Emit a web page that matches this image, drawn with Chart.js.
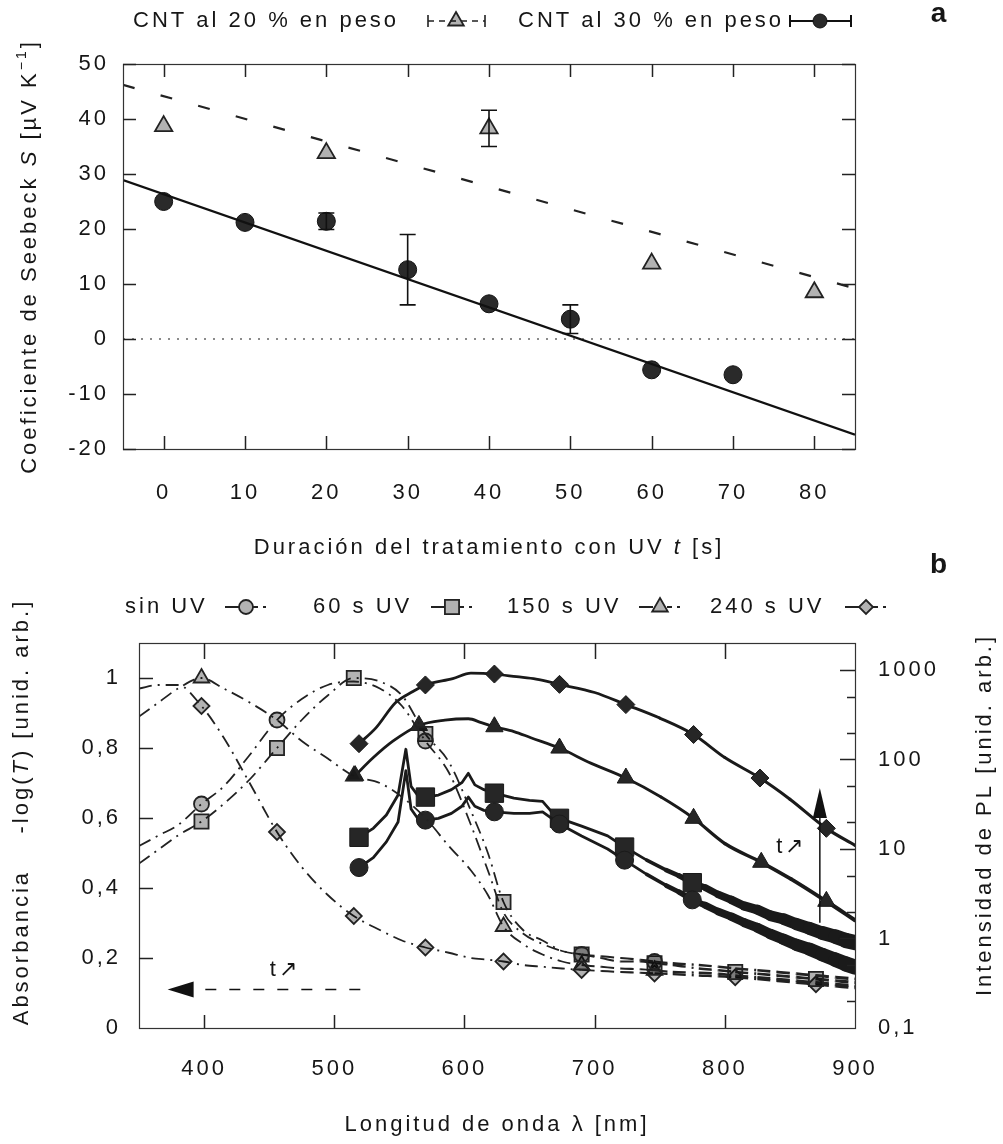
<!DOCTYPE html>
<html><head><meta charset="utf-8">
<script src="https://cdn.jsdelivr.net/npm/chart.js@4.4.1/dist/chart.umd.min.js"></script>
<style>
html,body{margin:0;padding:0;background:#fff;}
#wrap{position:relative;width:1003px;height:1144px;overflow:hidden;background:#fff;}
canvas{position:absolute;left:0;top:0;}
</style></head><body>
<div id="wrap">
<canvas id="ca" width="1003" height="1144"></canvas>
<canvas id="cb" width="1003" height="1144"></canvas>
</div>
<script>
// ---------- Panel a data ----------
const xTicksA = [0,10,20,30,40,50,60,70,80];
const yTicksA = [-20,-10,0,10,20,30,40,50];
const time30 = [0,10,20,30,40,50,60,70];
const seebeck30 = [25.0,21.2,21.4,12.6,6.4,3.6,-5.6,-6.5];
const err30 = [0,0,1.5,6.4,0,2.6,0,0];
const time20 = [0,20,40,60,80];
const seebeck20 = [38.7,33.8,38.3,13.7,8.5];
const err20 = [0,0,3.3,0,0];
const fitT = [-5,85];
const fit30 = [28.9,-17.4];
const fit20 = [46.2,9.2];
const zeroRef = [0,0];

// ---------- Panel b data ----------
const xTicksB = [400,500,600,700,800,900];
const yTicksB = [0,0.2,0.4,0.6,0.8,1];
const yTickLabelsB = ['0','0,2','0,4','0,6','0,8','1'];
const y2Ticks = [0.1,1,10,100,1000];
const y2TickLabels = ['0,1','1','10','100','1000'];
const y2Minor = [0.2,0.5,2,5,20,50,200,500];

const absLam = [350,365,380,398,415,435,456,475,495,515,535,552,570,588,605,618,630,645,660,675,690,705,720,735,746,760,780,795,808,825,840,855,870,885,900];
const absSinUV = [0.52,0.55,0.58,0.64,0.69,0.78,0.88,0.94,0.98,0.99,0.97,0.92,0.82,0.73,0.58,0.45,0.33,0.27,0.24,0.22,0.21,0.205,0.20,0.195,0.19,0.185,0.18,0.175,0.17,0.165,0.16,0.155,0.15,0.145,0.14];
const abs60 = [0.47,0.51,0.55,0.59,0.64,0.71,0.80,0.88,0.95,1.0,0.99,0.95,0.84,0.76,0.62,0.50,0.36,0.28,0.25,0.22,0.21,0.20,0.19,0.19,0.185,0.18,0.17,0.165,0.16,0.155,0.15,0.145,0.14,0.135,0.13];
const abs150 = [0.89,0.93,0.97,1.0,0.97,0.93,0.88,0.82,0.77,0.72,0.70,0.66,0.60,0.52,0.45,0.38,0.29,0.24,0.21,0.19,0.18,0.175,0.17,0.168,0.165,0.16,0.158,0.155,0.15,0.145,0.14,0.135,0.13,0.125,0.12];
const abs240 = [0.97,0.98,0.98,0.92,0.83,0.70,0.56,0.46,0.38,0.32,0.28,0.25,0.23,0.215,0.20,0.195,0.19,0.18,0.175,0.17,0.166,0.163,0.16,0.158,0.156,0.154,0.15,0.148,0.145,0.14,0.135,0.13,0.125,0.12,0.115];
const absMarkSinUV = [398,456,570,690,746];
const absMark60 = [398,456,515,570,630,690,746,808,870];
const absMark150 = [398,515,630,690,746];
const absMark240 = [398,456,515,570,630,690,746,808,870];

const pl240Lam = [519,532,547,560,570,591,605,623,640,655,673,700,724,750,776,800,827,850,878,900];
const pl240 = [150,225,430,570,680,800,920,900,840,790,690,560,410,290,190,105,62,36,17,11];
const pl240Mark = [519,570,623,673,724,776,827,878];

const pl150Lam = [516,530,545,565,585,603,613,623,638,651,673,697,724,751,776,800,828,851,878,900];
const pl150 = [66,105,160,240,275,285,258,232,205,175,134,91,62,38,22,11.5,7.1,4.6,2.6,1.6];
const pl150Mark = [516,565,623,673,724,776,828,878];

const plNoisyLam = [519,530,540,549,555,559,564,570,580,590,598,603,608,615,623,638,650,660,667,673,690,710,723,740,755,765,775,785,795,805,815,825,835,845,855,865,875,885,893,900];
const pl60 = [13.5,17,24,40,130,50,40,38,40,46,55,70,52,46,42,37,35,34,26,22,18,14,10.5,7.5,5.8,5.0,4.2,3.7,3.1,2.7,2.3,2.1,1.8,1.65,1.45,1.3,1.15,1.05,0.95,0.9];
const plSinUV = [6.2,8,12,20,75,28,22,21,22,25,30,38,30,27,26,25,25,26,22,19,14,10,7.5,5.2,3.9,3.3,2.7,2.35,2.0,1.75,1.5,1.32,1.12,0.98,0.85,0.76,0.66,0.58,0.52,0.48];
const pl60Mark = [519,570,623,673,723,775];
const plSinUVMark = [519,570,623,673,723,775];

const arrowAbsLam = [520,372];
const arrowAbsVal = [0.11,0.11];
const arrowPLLam = [873,873];
const arrowPLVal = [1.5,48];
const tLabelAbs = [462,0.165];
const tLabelPL = [851,10.5];

// ---------- helpers ----------
const FONT = "'Liberation Sans', Arial, Helvetica, sans-serif";
const LS = '3px';
const INK = '#161616';
const pts = (xs, ys) => xs.map((x,i)=>({x:x, y:ys[i]}));
const markR = (marks, r) => (c => (c.raw && marks.indexOf(c.raw.x) >= 0) ? r : 0);

function marker(ctx, style, x, y, r, fill, stroke, lw){
  ctx.save(); ctx.setLineDash([]); ctx.beginPath();
  if(style==='circle') ctx.arc(x,y,r,0,2*Math.PI);
  else if(style==='rect'){ const s=r*Math.SQRT1_2; ctx.rect(x-s,y-s,2*s,2*s); }
  else if(style==='triangle'){ ctx.moveTo(x,y-r); ctx.lineTo(x+r*0.866,y+r*0.5); ctx.lineTo(x-r*0.866,y+r*0.5); ctx.closePath(); }
  else if(style==='rectRot'){ ctx.moveTo(x,y-r); ctx.lineTo(x+r,y); ctx.lineTo(x,y+r); ctx.lineTo(x-r,y); ctx.closePath(); }
  if(fill){ ctx.fillStyle=fill; ctx.fill(); }
  if(stroke){ ctx.strokeStyle=stroke; ctx.lineWidth=lw; ctx.stroke(); }
  ctx.restore();
}
function fontFor(p, size){
  return (p.b?'bold ':'') + (p.i?'italic ':'') + (p.sup?Math.round(size*0.65):size) + 'px ' + FONT;
}
function rich(ctx, parts, x, y, rot, size, align){
  ctx.save();
  ctx.translate(x,y); ctx.rotate(rot||0);
  ctx.letterSpacing = LS;
  let total = 0;
  const w = parts.map(p=>{ ctx.font = fontFor(p,size); const m = ctx.measureText(p.t).width; total += m; return m; });
  let cx = align==='left' ? 0 : -total/2;
  ctx.textBaseline = 'middle'; ctx.textAlign = 'left'; ctx.fillStyle = INK;
  parts.forEach((p,i)=>{ ctx.font = fontFor(p,size); ctx.fillText(p.t, cx, p.sup ? -size*0.35 : 0); cx += w[i]; });
  ctx.restore();
  return total;
}
function frame(ctx, a){
  ctx.save(); ctx.strokeStyle='#333'; ctx.lineWidth=1.2; ctx.setLineDash([]);
  ctx.strokeRect(a.left+0.5, a.top+0.5, a.right-a.left, a.bottom-a.top);
  ctx.restore();
}
function vTicks(ctx, scale, vals, a, lenTop, lenBot){
  ctx.save(); ctx.strokeStyle='#222'; ctx.lineWidth=1.5; ctx.beginPath();
  vals.forEach(v=>{ const px = Math.round(scale.getPixelForValue(v))+0.5;
    if(lenBot){ ctx.moveTo(px,a.bottom); ctx.lineTo(px,a.bottom-lenBot); }
    if(lenTop){ ctx.moveTo(px,a.top); ctx.lineTo(px,a.top+lenTop); } });
  ctx.stroke(); ctx.restore();
}
function hTicks(ctx, scale, vals, a, lenL, lenR){
  ctx.save(); ctx.strokeStyle='#222'; ctx.lineWidth=1.5; ctx.beginPath();
  vals.forEach(v=>{ const py = Math.round(scale.getPixelForValue(v))+0.5;
    if(lenL){ ctx.moveTo(a.left,py); ctx.lineTo(a.left+lenL,py); }
    if(lenR){ ctx.moveTo(a.right,py); ctx.lineTo(a.right-lenR,py); } });
  ctx.stroke(); ctx.restore();
}
function errBars(ctx, xs, ys, es, sx, sy, cap){
  ctx.save(); ctx.strokeStyle='#111'; ctx.lineWidth=1.6; ctx.setLineDash([]); ctx.beginPath();
  xs.forEach((x,i)=>{ if(!es[i]) return;
    const px = sx.getPixelForValue(x), y1 = sy.getPixelForValue(ys[i]-es[i]), y2 = sy.getPixelForValue(ys[i]+es[i]);
    ctx.moveTo(px,y1); ctx.lineTo(px,y2);
    ctx.moveTo(px-cap,y1); ctx.lineTo(px+cap,y1);
    ctx.moveTo(px-cap,y2); ctx.lineTo(px+cap,y2); });
  ctx.stroke(); ctx.restore();
}
const tickFont = {family: FONT, size: 22};

// ---------- Panel a ----------
const pluginA = {
  id: 'panelA',
  beforeDraw(chart){ chart.ctx.letterSpacing = LS; },
  afterDatasetsDraw(chart){
    const ctx = chart.ctx, sx = chart.scales.x, sy = chart.scales.y;
    errBars(ctx, time30, seebeck30, err30, sx, sy, 8);
    errBars(ctx, time20, seebeck20, err20, sx, sy, 8);
  },
  afterDraw(chart){
    const ctx = chart.ctx, a = chart.chartArea, sx = chart.scales.x, sy = chart.scales.y;
    frame(ctx, a);
    vTicks(ctx, sx, xTicksA, a, 13, 13);
    hTicks(ctx, sy, yTicksA, a, 13, 13);
    rich(ctx, [{t:'Duración del tratamiento con UV '},{t:'t',i:1},{t:' [s]'}], (a.left+a.right)/2, 548, 0, 22);
    rich(ctx, [{t:'Coeficiente de Seebeck '},{t:'S',i:1},{t:' [µV K'},{t:'−1',sup:1},{t:']'}], 30, (a.top+a.bottom)/2, -Math.PI/2, 22);
    rich(ctx, [{t:'a',b:1}], 940, 14, 0, 28);
    const ly = 21;
    rich(ctx, [{t:'CNT al 20 % en peso'}], 133, ly, 0, 22, 'left');
    ctx.save(); ctx.strokeStyle='#222'; ctx.lineWidth=1.6;
    ctx.setLineDash([6,5]); ctx.beginPath(); ctx.moveTo(428,ly); ctx.lineTo(485,ly); ctx.stroke();
    ctx.setLineDash([]); ctx.beginPath(); ctx.moveTo(428,ly-6); ctx.lineTo(428,ly+6); ctx.moveTo(485,ly-6); ctx.lineTo(485,ly+6); ctx.stroke();
    ctx.restore();
    marker(ctx,'triangle',456,ly,9,'rgba(0,0,0,0.3)','#222',1.8);
    rich(ctx, [{t:'CNT al 30 % en peso'}], 518, ly, 0, 22, 'left');
    ctx.save(); ctx.strokeStyle='#111'; ctx.lineWidth=2; ctx.setLineDash([]);
    ctx.beginPath(); ctx.moveTo(790,ly); ctx.lineTo(851,ly); ctx.moveTo(790,ly-6); ctx.lineTo(790,ly+6); ctx.moveTo(851,ly-6); ctx.lineTo(851,ly+6); ctx.stroke();
    ctx.restore();
    marker(ctx,'circle',820,ly,7,'#2a2a2a','#111',1);
  }
};

new Chart(document.getElementById('ca'), {
  type: 'line',
  data: { datasets: [
    { label:'ajuste 20 %', data: pts(fitT, fit20), borderColor:'#222', borderWidth:2.2, borderDash:[12,27], pointRadius:0, fill:false },
    { label:'ajuste 30 %', data: pts(fitT, fit30), borderColor:'#111', borderWidth:2.4, pointRadius:0, fill:false },
    { label:'cero', data: pts(fitT, zeroRef), borderColor:'#666', borderWidth:1.3, borderDash:[2,7], pointRadius:0, fill:false },
    { label:'CNT al 20 % en peso', data: pts(time20, seebeck20), showLine:false, pointStyle:'triangle', pointRadius:10,
      pointBackgroundColor:'rgba(0,0,0,0.3)', pointBorderColor:'#222', pointBorderWidth:1.8 },
    { label:'CNT al 30 % en peso', data: pts(time30, seebeck30), showLine:false, pointStyle:'circle', pointRadius:9,
      pointBackgroundColor:'#2a2a2a', pointBorderColor:'#111', pointBorderWidth:1 }
  ]},
  options: {
    responsive:false, animation:false, events:[],
    layout:{ padding:{ top:64, right:148, left:0, bottom:0 } },
    plugins:{ legend:{display:false}, tooltip:{enabled:false} },
    scales:{
      x:{ type:'linear', min:-5, max:85,
        afterBuildTicks: s => { s.ticks = xTicksA.map(v=>({value:v})); },
        afterFit: s => { s.height = 1144-449; },
        grid:{display:false, drawTicks:false}, border:{display:false},
        ticks:{ font:tickFont, color:INK, padding:31, maxRotation:0, autoSkip:false } },
      y:{ type:'linear', min:-20, max:50,
        afterBuildTicks: s => { s.ticks = yTicksA.map(v=>({value:v})); },
        afterFit: s => { s.width = 123; },
        grid:{display:false, drawTicks:false}, border:{display:false},
        ticks:{ font:tickFont, color:INK, padding:14, autoSkip:false } }
    }
  },
  plugins:[pluginA]
});

// ---------- Panel b ----------
const legendB = [
  {t:'sin UV', x:125, m:'circle', cx:246},
  {t:'60 s UV', x:313, m:'rect', cx:452},
  {t:'150 s UV', x:507, m:'triangle', cx:660},
  {t:'240 s UV', x:710, m:'rectRot', cx:866}
];
const pluginB = {
  id:'panelB',
  beforeDraw(chart){ chart.ctx.letterSpacing = LS; },
  afterDraw(chart){
    const ctx = chart.ctx, a = chart.chartArea, sx = chart.scales.x, sy = chart.scales.y, s2 = chart.scales.y2;
    frame(ctx, a);
    vTicks(ctx, sx, xTicksB.slice(0,-1), a, 16, 13);
    hTicks(ctx, sy, yTicksB.slice(1), a, 14, 0);
    hTicks(ctx, s2, y2Ticks.slice(1), a, 0, 15);
    hTicks(ctx, s2, y2Minor, a, 0, 8);
    ctx.save(); ctx.strokeStyle='#111'; ctx.fillStyle='#111';
    const ay = sy.getPixelForValue(arrowAbsVal[0]);
    const ax0 = sx.getPixelForValue(arrowAbsLam[0]), axTip = sx.getPixelForValue(arrowAbsLam[1]);
    ctx.lineWidth=1.6; ctx.setLineDash([11,13]); ctx.beginPath(); ctx.moveTo(ax0,ay); ctx.lineTo(axTip+22,ay); ctx.stroke();
    ctx.setLineDash([]); ctx.beginPath(); ctx.moveTo(axTip,ay); ctx.lineTo(axTip+26,ay-8); ctx.lineTo(axTip+26,ay+8); ctx.closePath(); ctx.fill();
    const vx = sx.getPixelForValue(arrowPLLam[0]);
    const vy0 = s2.getPixelForValue(arrowPLVal[0]), vyTip = s2.getPixelForValue(arrowPLVal[1]);
    ctx.lineWidth=1.5; ctx.beginPath(); ctx.moveTo(vx,vy0); ctx.lineTo(vx,vyTip+20); ctx.stroke();
    ctx.beginPath(); ctx.moveTo(vx,vyTip); ctx.lineTo(vx+7,vyTip+30); ctx.lineTo(vx-7,vyTip+30); ctx.closePath(); ctx.fill();
    ctx.restore();
    rich(ctx, [{t:'t↗'}], sx.getPixelForValue(tLabelAbs[0]), sy.getPixelForValue(tLabelAbs[1]), 0, 22);
    rich(ctx, [{t:'t↗'}], sx.getPixelForValue(tLabelPL[0]), s2.getPixelForValue(tLabelPL[1]), 0, 22);
    rich(ctx, [{t:'Longitud de onda λ [nm]'}], (a.left+a.right)/2, 1125, 0, 22);
    rich(ctx, [{t:'Absorbancia    -log('},{t:'T',i:1},{t:') [unid. arb.]'}], 22, 812, -Math.PI/2, 22);
    rich(ctx, [{t:'Intensidad de PL [unid. arb.]'}], 985, 815, -Math.PI/2, 22);
    rich(ctx, [{t:'b',b:1}], 940, 565, 0, 28);
    const ly = 607;
    legendB.forEach(it=>{
      rich(ctx, [{t:it.t}], it.x, ly, 0, 22, 'left');
      ctx.save(); ctx.strokeStyle='#222'; ctx.lineWidth=1.8; ctx.setLineDash([]);
      ctx.beginPath(); ctx.moveTo(it.cx-21,ly); ctx.lineTo(it.cx-7,ly); ctx.moveTo(it.cx+7,ly); ctx.lineTo(it.cx+12,ly); ctx.moveTo(it.cx+17,ly); ctx.lineTo(it.cx+20,ly); ctx.stroke();
      ctx.restore();
      const r = it.m==='rect' ? 10 : (it.m==='triangle' ? 9 : 7);
      marker(ctx, it.m, it.cx, ly, r, 'rgba(0,0,0,0.3)', '#222', 1.8);
    });
  }
};

// line-width growth where the measured spectra become noisy (style only)
const growW = (base, from, to, extra) => (c => base + Math.max(0, Math.min(1, (c.p0.parsed.x - from)/(to - from))) * extra);

const absStyle = (lab, ys, marks, style, r) => ({
  label: lab, data: pts(absLam, ys), yAxisID:'y', borderColor:'#222', borderWidth:1.8, borderDash:[13,6,2,6],
  segment:{ borderWidth: growW(1.8, 680, 900, 1.4) },
  cubicInterpolationMode:'monotone', pointStyle: style, pointRadius: markR(marks, r),
  pointBackgroundColor:'rgba(0,0,0,0.3)', pointBorderColor:'#222', pointBorderWidth:1.8, fill:false
});
const plStyle = (lab, lam, ys, marks, style, r, smooth, extra) => ({
  label: lab, data: pts(lam, ys), yAxisID:'y2', borderColor:'#1a1a1a', borderWidth:2.8,
  borderCapStyle:'round', borderJoinStyle:'round',
  segment:{ borderWidth: growW(2.8, 730, 900, extra) },
  cubicInterpolationMode: smooth ? 'monotone' : 'default', tension:0, pointStyle: style, pointRadius: markR(marks, r),
  pointBackgroundColor:'#262626', pointBorderColor:'#1a1a1a', pointBorderWidth:1, fill:false
});

new Chart(document.getElementById('cb'), {
  type:'line',
  data:{ datasets:[
    absStyle('sin UV (abs)', absSinUV, absMarkSinUV, 'circle', 7.5),
    absStyle('60 s UV (abs)', abs60, absMark60, 'rect', 10),
    absStyle('150 s UV (abs)', abs150, absMark150, 'triangle', 9),
    absStyle('240 s UV (abs)', abs240, absMark240, 'rectRot', 8),
    plStyle('sin UV (PL)', plNoisyLam, plSinUV, plSinUVMark, 'circle', 9, false, 13),
    plStyle('60 s UV (PL)', plNoisyLam, pl60, pl60Mark, 'rect', 13, false, 13),
    plStyle('150 s UV (PL)', pl150Lam, pl150, pl150Mark, 'triangle', 10, true, 1.5),
    plStyle('240 s UV (PL)', pl240Lam, pl240, pl240Mark, 'rectRot', 9, true, 0.5)
  ]},
  options:{
    responsive:false, animation:false, events:[],
    layout:{ padding:{ top:643, right:0, left:0, bottom:0 } },
    plugins:{ legend:{display:false}, tooltip:{enabled:false} },
    scales:{
      x:{ type:'linear', min:350, max:900,
        afterBuildTicks: s => { s.ticks = xTicksB.map(v=>({value:v})); },
        afterFit: s => { s.height = 1144-1028; },
        grid:{display:false, drawTicks:false}, border:{display:false},
        ticks:{ font:tickFont, color:INK, padding:28, maxRotation:0, autoSkip:false } },
      y:{ type:'linear', position:'left', min:0, max:1.1,
        afterBuildTicks: s => { s.ticks = yTicksB.map(v=>({value:v})); },
        afterFit: s => { s.width = 139; },
        grid:{display:false, drawTicks:false}, border:{display:false},
        ticks:{ font:tickFont, color:INK, padding:18, autoSkip:false, callback:(v,i)=>yTickLabelsB[i] } },
      y2:{ type:'logarithmic', position:'right', min:0.1, max:2000,
        afterBuildTicks: s => { s.ticks = y2Ticks.map(v=>({value:v})); },
        afterFit: s => { s.width = 148; },
        grid:{display:false, drawTicks:false}, border:{display:false},
        ticks:{ font:tickFont, color:INK, padding:23, autoSkip:false, callback:(v,i)=>y2TickLabels[i] } }
    }
  },
  plugins:[pluginB]
});
</script>
</body></html>
